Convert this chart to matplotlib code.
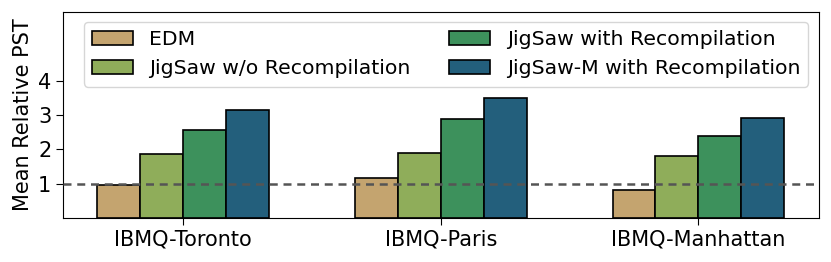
import numpy as np
import matplotlib.pyplot as plt

machines = ["IBMQ-Toronto", "IBMQ-Paris", "IBMQ-Manhattan"]
labels = ["EDM", "JigSaw w/o Recompilation", "JigSaw with Recompilation", "JigSaw-M with Recompilation"]
edm = [0.96, 1.16, 0.82]
jigsaw_norecomp = [1.86, 1.89, 1.80]
jigsaw_recomp = [2.57, 2.88, 2.39]
jigsaw_m = [3.14, 3.50, 2.92]
colors = ["#c4a46f", "#8fad5a", "#3d915c", "#235f7c"]

series = [edm, jigsaw_norecomp, jigsaw_recomp, jigsaw_m]

fig, ax = plt.subplots(figsize=(8.31, 2.62), dpi=100)
x = np.arange(len(machines))
w = 1 / 6
for i, (vals, lab, c) in enumerate(zip(series, labels, colors)):
    ax.bar(x + (i - 1.5) * w, vals, w, color=c, edgecolor="black", linewidth=1.2, label=lab)

# baseline at 1
ax.axhline(1, color="#555555", linestyle="--", linewidth=1.8, dashes=(3.2, 2.3), zorder=5)
ax.set_ylim(0, 6)
ax.set_yticks([1, 2, 3, 4])
ax.set_xticks(x)
ax.set_xticklabels(machines)
ax.tick_params(labelsize=15, length=5)
ax.set_ylabel("Mean Relative PST", fontsize=15)
ax.legend(ncol=2, fontsize=14.7, loc="upper right", columnspacing=1.9)
plt.subplots_adjust(left=0.076, right=0.985, top=0.955, bottom=0.168)
plt.savefig("out.png")
